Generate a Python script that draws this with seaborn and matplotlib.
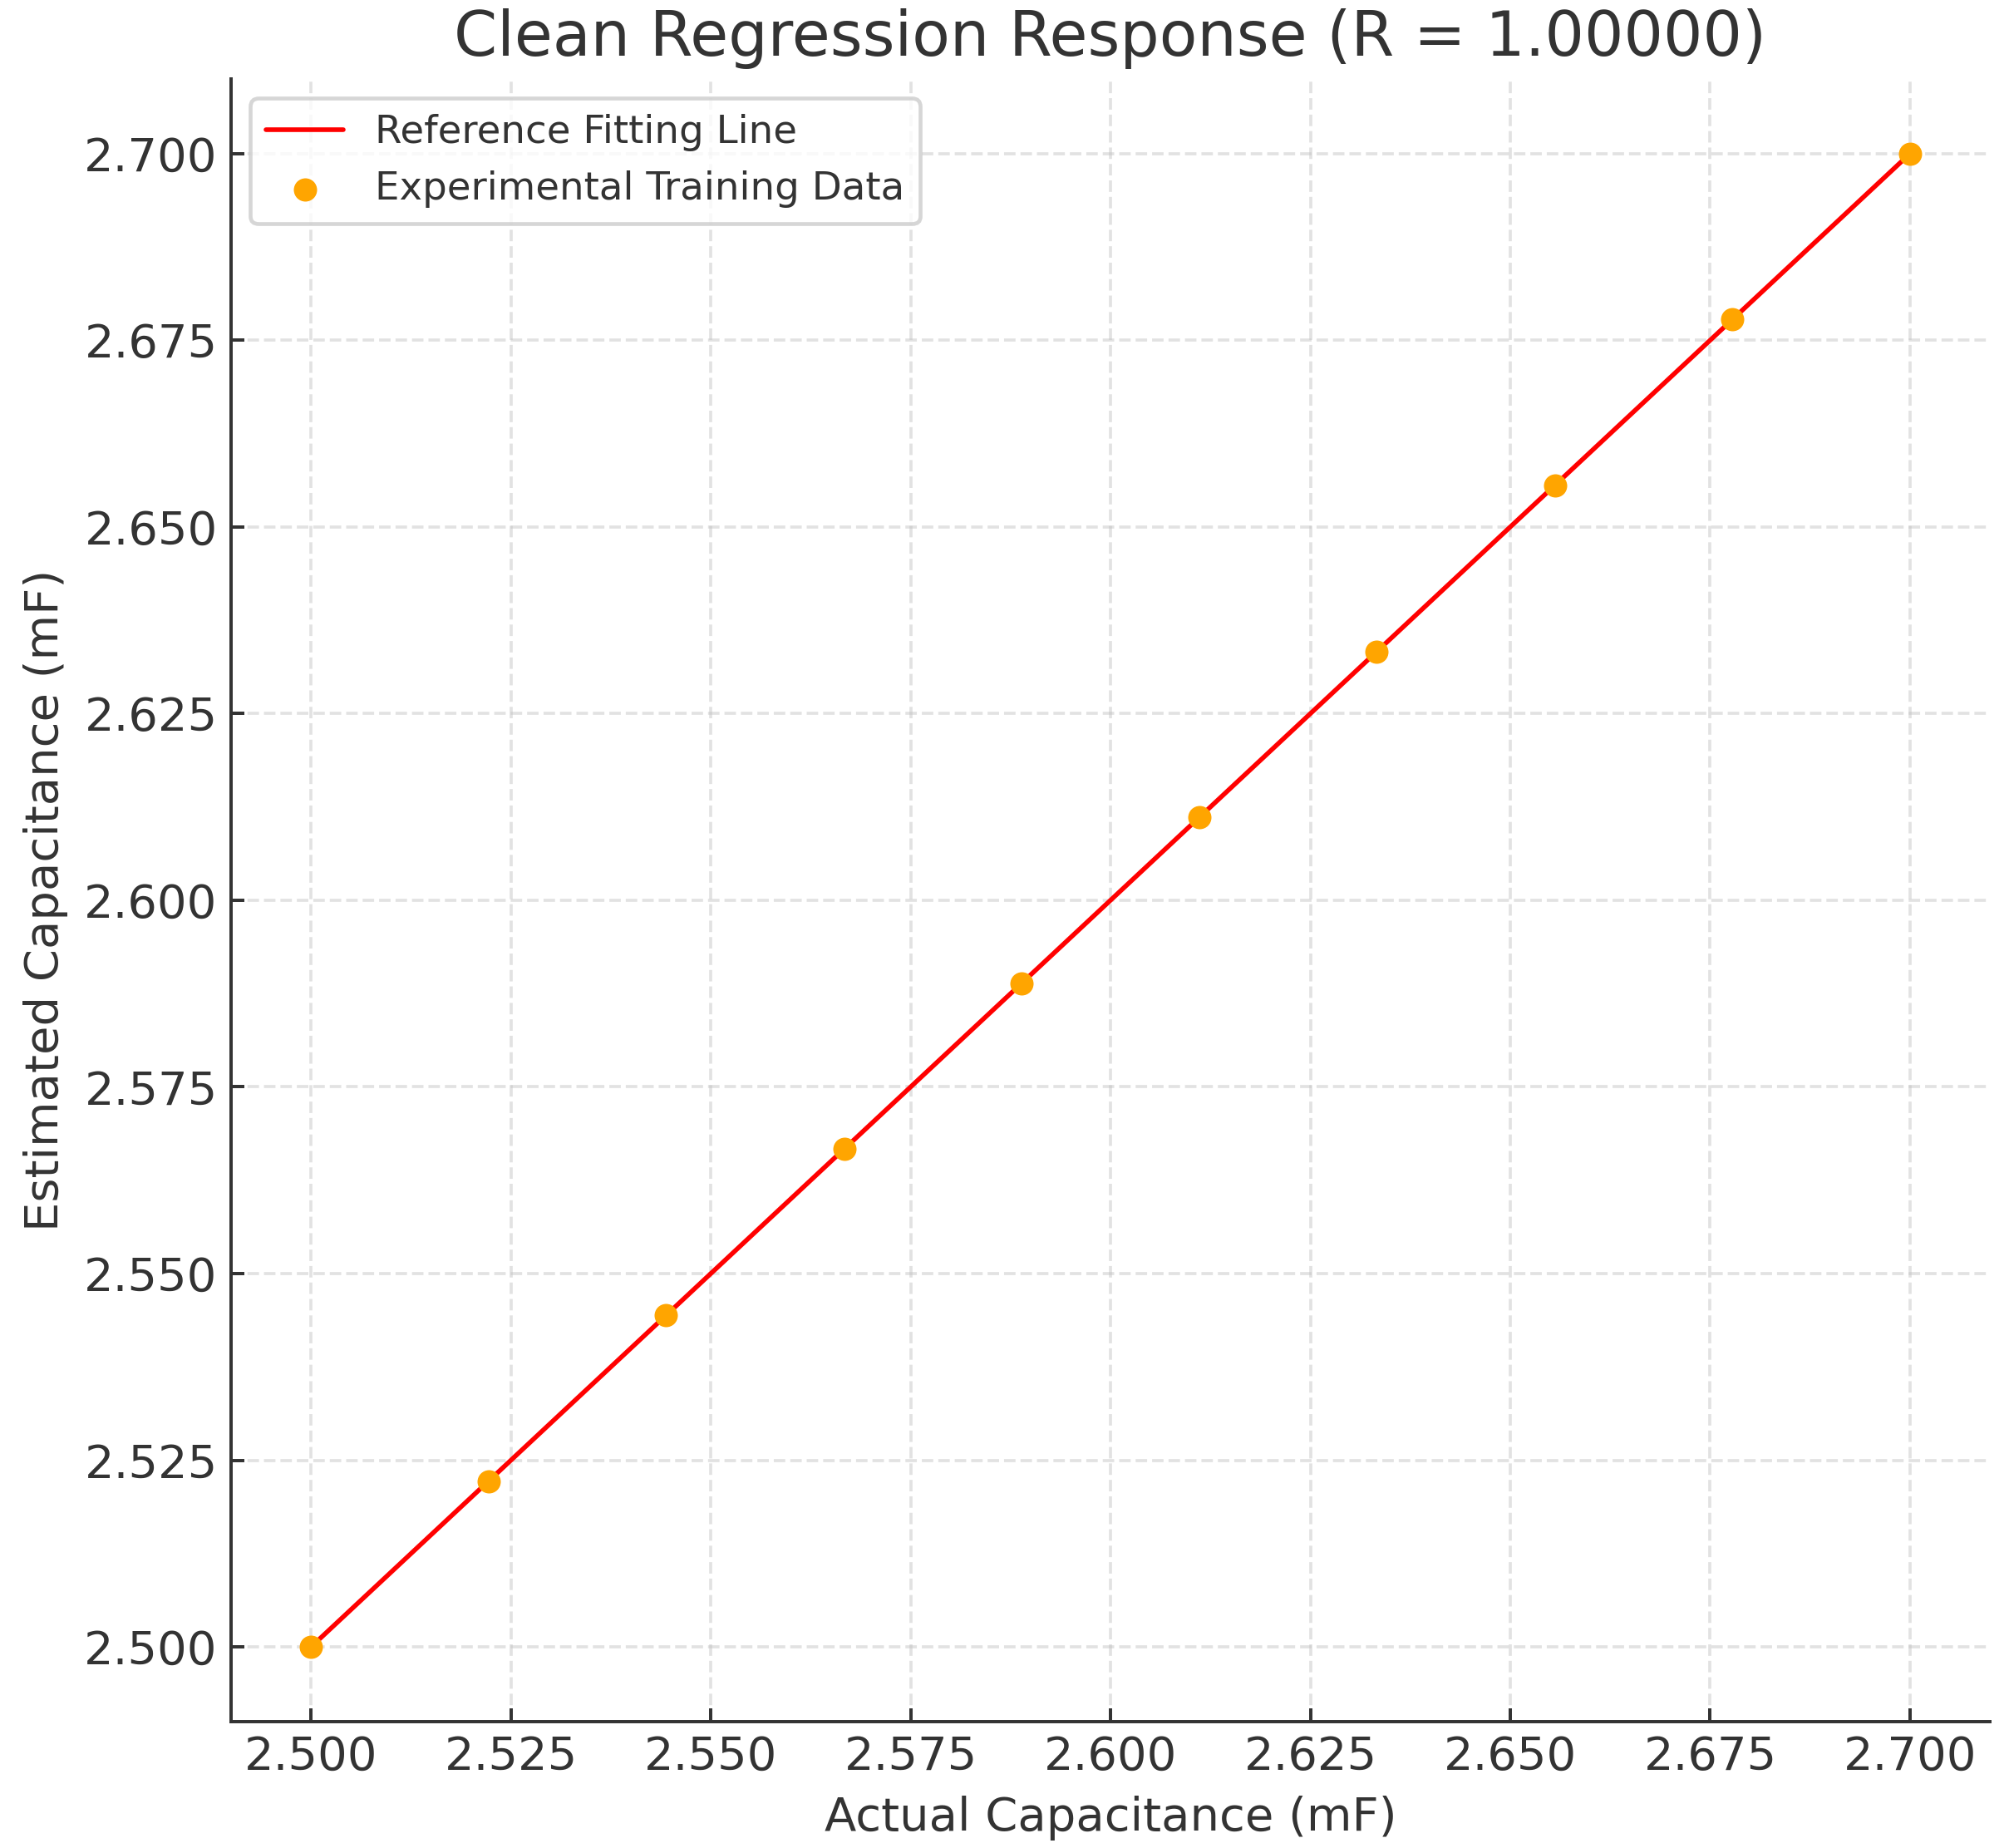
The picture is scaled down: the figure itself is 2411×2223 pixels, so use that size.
import seaborn as sns
import matplotlib.pyplot as plt
from matplotlib.ticker import FormatStrFormatter

# measured vs estimated capacitance (mF)
actual = [2.5000, 2.5222, 2.5444, 2.5667, 2.5889, 2.6111, 2.6333, 2.6556, 2.6778, 2.7000]
estimated = [2.5000, 2.5222, 2.5444, 2.5667, 2.5889, 2.6111, 2.6333, 2.6556, 2.6778, 2.7000]
fit_x = [2.5, 2.7]
fit_y = [2.5, 2.7]
r_value = 1.0

sns.set_theme(style='ticks')
plt.rcParams['font.family'] = ['DejaVu Sans']
plt.rcParams.update({
  'text.color': '#333333',
  'axes.labelcolor': '#333333',
  'axes.edgecolor': '#333333',
  'axes.linewidth': 0.85,
  'xtick.color': '#333333',
  'ytick.color': '#333333',
  'xtick.direction': 'in',
  'ytick.direction': 'in',
  'xtick.major.size': 3.5,
  'ytick.major.size': 3.5,
  'xtick.major.width': 0.85,
  'ytick.major.width': 0.85,
})

fig, ax = plt.subplots(figsize=(2411 / 336, 2223 / 336), dpi=336)
fig.subplots_adjust(left=0.1153, right=0.993, bottom=0.0684, top=0.9573)

sns.lineplot(x=fit_x, y=fit_y, color='red', linewidth=1.2, label='Reference Fitting Line', ax=ax, zorder=2)
sns.scatterplot(x=actual, y=estimated, color='orange', s=36, linewidth=0,
                label='Experimental Training Data', ax=ax, zorder=3)

ax.grid(True, linestyle='--', linewidth=0.8, color='#c0c0c0', alpha=0.45)
ax.xaxis.set_major_formatter(FormatStrFormatter('%.3f'))
ax.yaxis.set_major_formatter(FormatStrFormatter('%.3f'))
ax.tick_params(labelsize=12)
sns.despine(ax=ax)

ax.set_title(f'Clean Regression Response (R = {r_value:.5f})', fontsize=16)
ax.set_xlabel('Actual Capacitance (mF)', fontsize=12)
ax.set_ylabel('Estimated Capacitance (mF)', fontsize=12)
ax.legend(loc='upper left', fontsize=10, frameon=True)

plt.savefig('out.png', dpi=336)
